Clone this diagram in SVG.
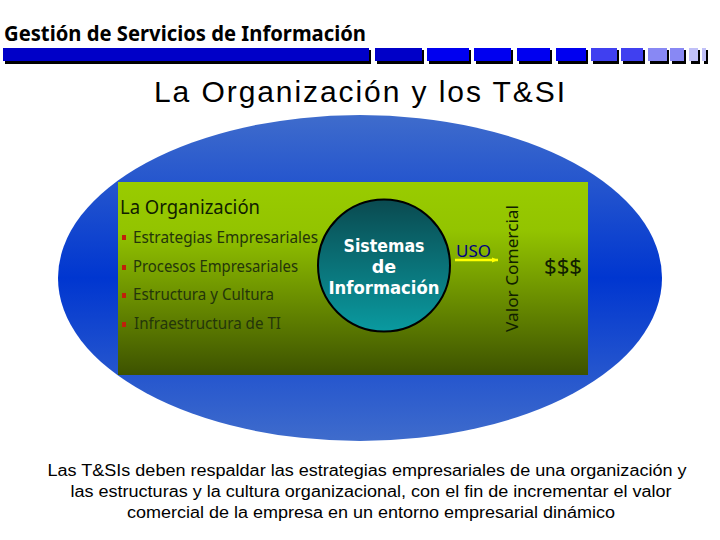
<svg xmlns="http://www.w3.org/2000/svg" width="720" height="540" viewBox="0 0 720 540">
<style>
.t{font-family:"Noto Sans","DejaVu Sans",sans-serif}
.a{font-family:"Liberation Sans",Arial,sans-serif;fill:#000}
.li{font-size:16px;fill:#24360a}
.w{font-family:"DejaVu Sans",sans-serif;font-size:17.500px;font-weight:bold;fill:#fff;text-anchor:middle}
.b{font-size:16px;text-anchor:middle}
.bul{fill:#c0200a}
.s1{fill:#0000c8}.s2{fill:#0000f0}.s3{fill:#4040f0}.s4{fill:#8888f4}.s5{fill:#c0c0f8}
</style>
<defs>
<linearGradient id="eg" x1="0" y1="0" x2="0" y2="1"><stop offset="0" stop-color="#3f6ccc"/><stop offset="0.5" stop-color="#0036d0"/><stop offset="1" stop-color="#3f6ccc"/></linearGradient>
<linearGradient id="rg" x1="0" y1="0" x2="0" y2="1"><stop offset="0" stop-color="#99cc00"/><stop offset="0.25" stop-color="#93c400"/><stop offset="1" stop-color="#3d5200"/></linearGradient>
<linearGradient id="cg" x1="0" y1="0" x2="0" y2="1"><stop offset="0" stop-color="#0a4a50"/><stop offset="1" stop-color="#0a9aa0"/></linearGradient>
<marker id="ah" markerUnits="userSpaceOnUse" markerWidth="7" markerHeight="6" refX="6" refY="3" orient="auto"><path d="M0 0.500L6 3L0 5.500z" fill="#ffff00"/></marker>
</defs>
<rect width="720" height="540" fill="#fff"/>
<g id="header">
<text class="t" x="4" y="41" font-size="21px" font-weight="bold" textLength="362" lengthAdjust="spacingAndGlyphs" fill="#000">Gestión de Servicios de Información</text>
<g fill="#000">
<rect x="5" y="50" width="366" height="14"/><rect x="377" y="50" width="47" height="14"/><rect x="429" y="50" width="42" height="14"/><rect x="476" y="50" width="37" height="14"/><rect x="519" y="50" width="33" height="14"/><rect x="558" y="50" width="30" height="14"/><rect x="593" y="50" width="26" height="14"/><rect x="623" y="50" width="22" height="14"/><rect x="650" y="50" width="19" height="14"/><rect x="672" y="50" width="14" height="14"/><rect x="691" y="50" width="9" height="14"/><rect x="704" y="50" width="4" height="14"/>
</g>
<rect class="s1" x="3" y="48" width="366" height="13"/><rect class="s1" x="375" y="48" width="47" height="13"/><rect class="s2" x="427" y="48" width="42" height="13"/><rect class="s2" x="474" y="48" width="37" height="13"/><rect class="s2" x="517" y="48" width="33" height="13"/><rect class="s2" x="556" y="48" width="30" height="13"/><rect class="s3" x="591" y="48" width="26" height="13"/><rect class="s3" x="621" y="48" width="22" height="13"/><rect class="s4" x="648" y="48" width="19" height="13"/><rect class="s4" x="670" y="48" width="14" height="13"/><rect class="s5" x="689" y="48" width="9" height="13"/><rect class="s5" x="702" y="48" width="4" height="13"/>
</g>
<text class="a" x="154" y="102" font-size="30px" textLength="411" lengthAdjust="spacing" fill="#111">La Organización y los T&amp;SI</text>
<ellipse cx="360" cy="278" rx="302" ry="163" fill="url(#eg)"/>
<rect x="118" y="182" width="470" height="193" fill="url(#rg)"/>
<g id="organizacion">
<text class="t" x="120" y="214" font-size="20px" textLength="140" lengthAdjust="spacingAndGlyphs" fill="#102000">La Organización</text>
<rect class="bul" x="122" y="235" width="4" height="5"/>
<text class="t li" x="133" y="243" textLength="185" lengthAdjust="spacingAndGlyphs">Estrategias  Empresariales</text>
<rect class="bul" x="122" y="265" width="4" height="5"/>
<text class="t li" x="133" y="272" textLength="165" lengthAdjust="spacingAndGlyphs">Procesos Empresariales</text>
<rect class="bul" x="122" y="293" width="4" height="5"/>
<text class="t li" x="133" y="300" textLength="141" lengthAdjust="spacingAndGlyphs">Estructura y Cultura</text>
<rect class="bul" x="122" y="322" width="4" height="5"/>
<text class="t li" x="134" y="329" textLength="147" lengthAdjust="spacingAndGlyphs">Infraestructura de TI</text>
</g>
<g id="sistemas">
<circle cx="384" cy="265.500" r="66" fill="url(#cg)" stroke="#000" stroke-width="2"/>
<text class="w" x="384" y="252" textLength="81" lengthAdjust="spacingAndGlyphs">Sistemas</text>
<text class="w" x="384" y="273">de</text>
<text class="w" x="384" y="294" textLength="111" lengthAdjust="spacingAndGlyphs">Información</text>
</g>
<g id="connectors">
<line x1="455" y1="260" x2="498" y2="260" stroke="#ffff00" stroke-width="2.500" marker-end="url(#ah)"/>
</g>
<g id="uso"><text class="t" x="456" y="257" font-size="17px" fill="#000080" textLength="35" lengthAdjust="spacingAndGlyphs">USO</text></g>
<g id="valor"><text class="t" transform="translate(518,332) rotate(-90)" font-size="17px" fill="#102000" textLength="127" lengthAdjust="spacingAndGlyphs">Valor Comercial</text></g>
<g id="dinero"><text class="t" x="544" y="274" font-size="21px" fill="#102000" textLength="38" lengthAdjust="spacingAndGlyphs">$$$</text></g>
<g id="nota">
<text class="a b" x="367" y="476" textLength="639" lengthAdjust="spacingAndGlyphs">Las T&amp;SIs deben respaldar las estrategias empresariales de una organización y</text>
<text class="a b" x="371" y="497" textLength="601" lengthAdjust="spacingAndGlyphs">las estructuras y la cultura organizacional, con el fin de incrementar el valor</text>
<text class="a b" x="371" y="518" textLength="488" lengthAdjust="spacingAndGlyphs">comercial de la empresa en un entorno empresarial dinámico</text>
</g>
</svg>
